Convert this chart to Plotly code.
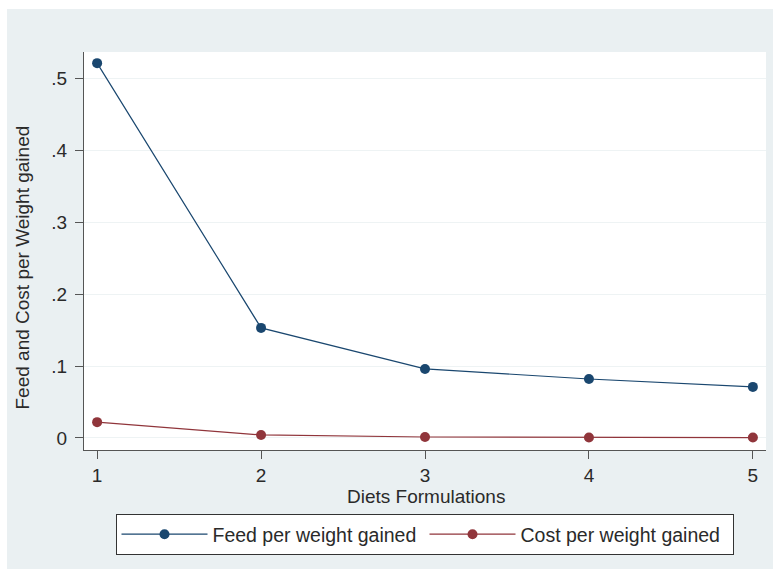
import plotly.graph_objects as go

# Diet formulation index and measured ratios
diets = [1, 2, 3, 4, 5]
feed_per_weight = [0.521, 0.153, 0.096, 0.082, 0.071]
cost_per_weight = [0.022, 0.0042, 0.0014, 0.0006, 0.0006]

y_tick_vals = [0, 0.1, 0.2, 0.3, 0.4, 0.5]
y_tick_text = ["0", ".1", ".2", ".3", ".4", ".5"]
x_tick_vals = [1, 2, 3, 4, 5]

NAVY = "#1a476f"
MAROON = "#90353b"
BG = "#eaf0f2"
TEXT = "#2a2a2a"
FONT = "Liberation Sans, Arial, sans-serif"

W, H = 773, 569
ML, MR, MT, MB = 84, 7, 52, 119
PW, PH = W - ML - MR, H - MT - MB


def px_x(p):
    return (p - ML) / PW


def px_y(p):
    return (H - MB - p) / PH


fig = go.Figure()
fig.add_trace(go.Scatter(
    x=diets, y=feed_per_weight, mode="lines+markers",
    name="Feed per weight gained",
    line=dict(color=NAVY, width=1.2),
    marker=dict(color=NAVY, size=10, symbol="circle"),
))
fig.add_trace(go.Scatter(
    x=diets, y=cost_per_weight, mode="lines+markers",
    name="Cost per weight gained",
    line=dict(color=MAROON, width=1.2),
    marker=dict(color=MAROON, size=10, symbol="circle"),
))

axis_common = dict(
    showline=True, linecolor="#555555", linewidth=1.4,
    ticks="outside", ticklen=8, tickwidth=1.2, tickcolor="#555555",
    tickfont=dict(family=FONT, size=19, color=TEXT),
    zeroline=False, mirror=False,
)

fig.update_layout(
    width=W, height=H,
    margin=dict(l=ML, r=MR, t=MT, b=MB, pad=0),
    paper_bgcolor=BG, plot_bgcolor="white",
    font=dict(family=FONT, size=19, color=TEXT),
    showlegend=True,
    xaxis=dict(
        range=[0.92, 5.08], tickmode="array", tickvals=x_tick_vals,
        showgrid=False, ticklabelstandoff=0, **axis_common,
    ),
    yaxis=dict(
        range=[-0.0167, 0.5365], tickmode="array",
        tickvals=y_tick_vals, ticktext=y_tick_text,
        showgrid=True, gridcolor="#eef3f4", gridwidth=1,
        ticklabelstandoff=4,
        **axis_common,
    ),
    legend=dict(
        orientation="h", x=px_x(424.5), xanchor="center",
        y=px_y(514), yanchor="top",
        bgcolor="white", bordercolor="#333333", borderwidth=1,
        font=dict(family=FONT, size=19.5, color=TEXT),
        itemwidth=86, entrywidth=207, entrywidthmode="pixels",
    ),
    annotations=[
        dict(text="Feed and Cost per Weight gained", textangle=-90,
             xref="paper", yref="paper", x=px_x(22), y=px_y(267.5),
             showarrow=False, font=dict(family=FONT, size=19, color=TEXT),
             xanchor="center", yanchor="middle"),
        dict(text="Diets Formulations",
             xref="paper", yref="paper", x=px_x(426), y=px_y(496),
             showarrow=False, font=dict(family=FONT, size=19, color=TEXT),
             xanchor="center", yanchor="middle"),
    ],
    shapes=[
        # white frame strips on the top and left edges of the page
        dict(type="rect", xref="paper", yref="paper", layer="above",
             x0=px_x(0), x1=px_x(7), y0=px_y(H), y1=px_y(0),
             fillcolor="white", line=dict(width=0)),
        dict(type="rect", xref="paper", yref="paper", layer="above",
             x0=px_x(0), x1=px_x(W), y0=px_y(9), y1=px_y(0),
             fillcolor="white", line=dict(width=0)),
    ],
)

fig.write_html("out.html")
